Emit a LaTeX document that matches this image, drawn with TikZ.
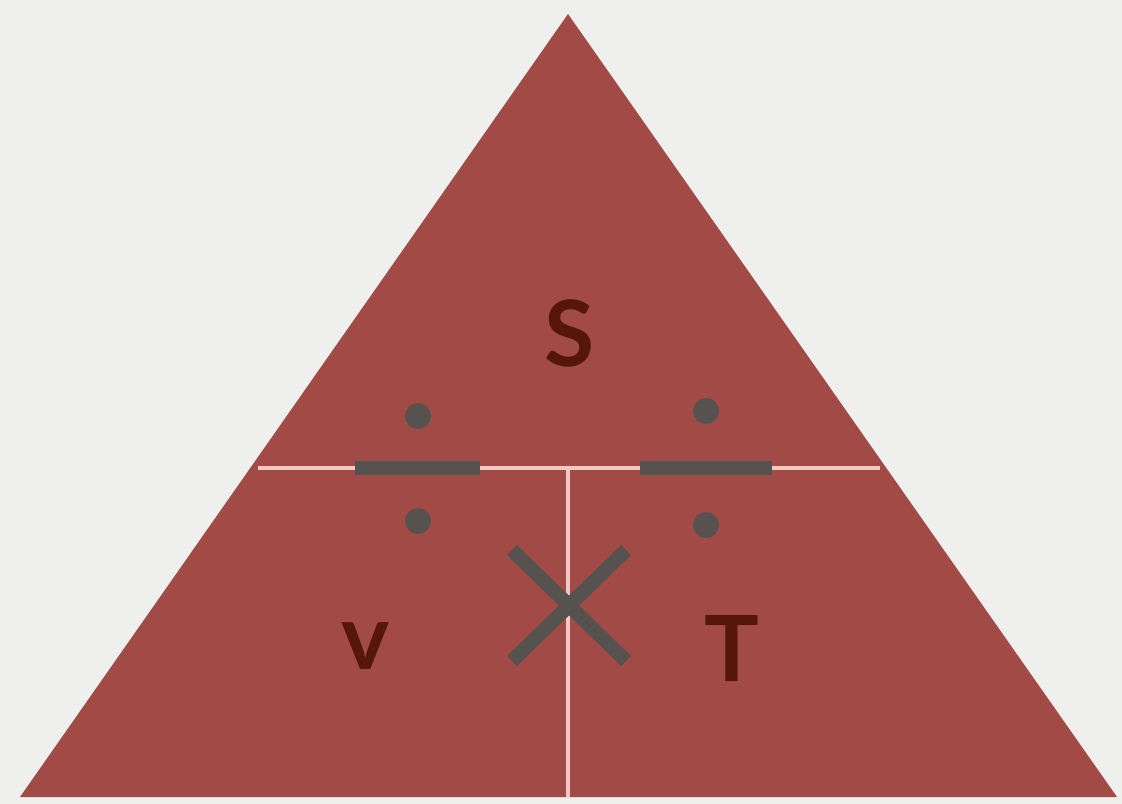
\documentclass[tikz,border=0pt]{standalone}
\usepackage{fontspec}
\setmainfont{Lato}
\usetikzlibrary{positioning}
\definecolor{paper}{HTML}{EFEFED}
\definecolor{brick}{HTML}{A24B46}
\definecolor{letter}{HTML}{561608}
\definecolor{ink}{HTML}{555250}
\definecolor{seam}{HTML}{F2C8C4}
\begin{document}
\begin{tikzpicture}[
  x=0.02cm,y=-0.02cm,
  qty/.style={
    text=letter,inner sep=0pt,font=\fontsize{52}{52}\selectfont\bfseries
  },
  seamline/.style={
    draw=seam,line width=1.9pt
  },
  opbar/.style={
    draw=ink,line width=8pt
  },
  opdot/.style={
    circle,fill=ink,minimum size=0.52cm,inner sep=0pt
  }
]

% ---- page and triangle ----
\fill[paper] (0,0) rectangle (1122,804);
\useasboundingbox (0,0) rectangle (1122,804);
\coordinate (apex)  at (568,14);
\coordinate (baseL) at (20,797);
\coordinate (baseR) at (1117,797);
\fill[brick] (apex) -- (baseL) -- (baseR) -- cycle;

% ---- dividing lines ----
\coordinate (midL) at (258,468);
\coordinate (midR) at (880,468);
\coordinate (midC) at (568,468);
\coordinate (botC) at (568,797);
\draw[seamline] (midL) -- (midR);
\draw[seamline] (midC) -- (botC);

% ---- quantities ----
\node[qty] (S) at (570,333) {S};
\node[qty] (V) at (366,646) {v};
\node[qty] (T) at (732,648) {T};

% ---- divide signs ----
\coordinate (barLa) at (355,468);
\coordinate (barLb) at (480,468);
\draw[opbar] (barLa) -- (barLb);
\node[opdot] (dotLt) at (418,416) {};
\node[opdot] (dotLb) at (418,521) {};

\coordinate (barRa) at (640,468);
\coordinate (barRb) at (772,468);
\draw[opbar] (barRa) -- (barRb);
\node[opdot] (dotRt) at (706,411) {};
\node[opdot] (dotRb) at (706,525) {};

% ---- times sign ----
\coordinate (crossA) at (512,550);
\coordinate (crossB) at (626,661);
\coordinate (crossC) at (626,550);
\coordinate (crossD) at (512,661);
\draw[opbar] (crossA) -- (crossB);
\draw[opbar] (crossC) -- (crossD);

\end{tikzpicture}
\end{document}
